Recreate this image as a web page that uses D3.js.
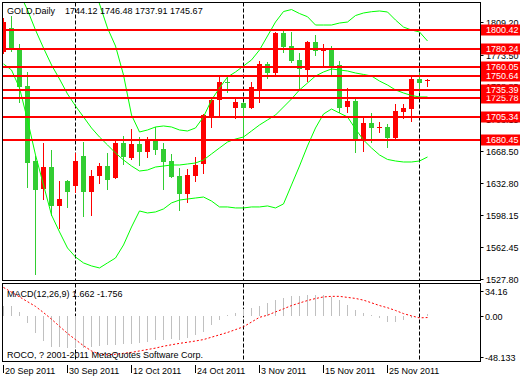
<!DOCTYPE html>
<html>
<head>
<meta charset="utf-8">
<script src="https://d3js.org/d3.v7.min.js"></script>
<style>
  body { margin: 0; background: #fff; }
  text { font-family: "Liberation Sans", Arial, sans-serif; font-size: 9px; }
</style>
</head>
<body>
<script>
// daily bars, 20 Sep 2011 .. 2 Dec 2011
var dates = ['2011.09.20', '2011.09.21', '2011.09.22', '2011.09.23', '2011.09.26', '2011.09.27', '2011.09.28', '2011.09.29', '2011.09.30',
  '2011.10.03', '2011.10.04', '2011.10.05', '2011.10.06', '2011.10.07', '2011.10.10', '2011.10.11', '2011.10.12', '2011.10.13', '2011.10.14',
  '2011.10.17', '2011.10.18', '2011.10.19', '2011.10.20', '2011.10.21', '2011.10.24', '2011.10.25', '2011.10.26', '2011.10.27', '2011.10.28', '2011.10.31',
  '2011.11.01', '2011.11.02', '2011.11.03', '2011.11.04', '2011.11.07', '2011.11.08', '2011.11.09', '2011.11.10', '2011.11.11', '2011.11.14',
  '2011.11.15', '2011.11.16', '2011.11.17', '2011.11.18', '2011.11.21', '2011.11.22', '2011.11.23', '2011.11.24', '2011.11.25', '2011.11.28',
  '2011.11.29', '2011.11.30', '2011.12.01', '2011.12.02'];

var open = [1776.5, 1802.8, 1780.9, 1739.2, 1657.0, 1626.3, 1650.4, 1607.7, 1635.1, 1629.6, 1662.5, 1623.0, 1640.6, 1651.5, 1638.4, 1676.7, 1660.3, 1675.6,
  1666.9, 1678.9, 1670.2, 1657.0, 1640.6, 1620.8, 1640.6, 1653.7, 1704.2, 1723.9, 1743.6, 1715.1, 1720.6, 1715.1, 1736.0, 1763.4, 1753.5, 1797.4,
  1783.1, 1767.8, 1756.8, 1787.5, 1777.6, 1780.9, 1762.3, 1716.2, 1722.8, 1681.1, 1698.7, 1693.2, 1694.3, 1682.2, 1710.7, 1714.0, 1746.9, 1744.12];
var high = [1813.8, 1816.0, 1785.3, 1754.6, 1662.5, 1676.7, 1669.1, 1635.1, 1636.2, 1665.8, 1677.8, 1647.1, 1654.8, 1665.8, 1678.9, 1684.4, 1692.1, 1683.3,
  1683.3, 1694.3, 1676.7, 1664.7, 1649.3, 1648.2, 1661.4, 1708.5, 1727.2, 1749.1, 1749.1, 1727.2, 1721.7, 1743.6, 1766.7, 1765.6, 1798.5, 1801.7,
  1798.5, 1775.4, 1788.6, 1795.2, 1785.3, 1783.1, 1766.7, 1737.1, 1726.1, 1704.2, 1709.6, 1699.8, 1697.6, 1719.5, 1719.5, 1749.1, 1753.5, 1746.48];
var low = [1774.3, 1776.5, 1720.6, 1627.4, 1532.0, 1614.2, 1596.7, 1582.4, 1605.5, 1621.9, 1595.6, 1596.7, 1631.8, 1625.2, 1637.3, 1652.6, 1658.1, 1651.5,
  1660.3, 1663.6, 1625.2, 1638.4, 1602.2, 1611.0, 1634.0, 1642.8, 1693.2, 1706.4, 1731.6, 1703.1, 1682.2, 1714.0, 1720.6, 1746.9, 1751.3, 1775.4,
  1764.5, 1734.9, 1743.6, 1772.1, 1760.1, 1751.3, 1709.6, 1709.6, 1665.8, 1666.9, 1676.7, 1687.7, 1671.3, 1681.1, 1703.1, 1699.8, 1731.6, 1737.91];
var close = [1809.4, 1779.8, 1738.1, 1654.8, 1625.2, 1650.4, 1607.7, 1615.3, 1623.0, 1657.0, 1623.0, 1640.6, 1651.5, 1636.2, 1676.7, 1661.4, 1675.6, 1666.9,
  1681.1, 1669.1, 1655.9, 1639.5, 1620.8, 1641.7, 1652.6, 1707.4, 1723.9, 1743.6, 1742.5, 1721.7, 1715.1, 1738.1, 1763.4, 1753.5, 1797.4, 1782.0,
  1766.7, 1757.9, 1787.5, 1777.6, 1779.8, 1761.2, 1715.1, 1722.8, 1681.1, 1698.7, 1693.2, 1694.3, 1682.2, 1711.8, 1715.1, 1746.9, 1742.5, 1745.67];

// bollinger bands
var bandUpper = [1901.5, 1905.9, 1910.3, 1914.7, 1919.1, 1921.3, 1921.3, 1919.1, 1912.5, 1901.5, 1882.9, 1855.5, 1829.2, 1802.8, 1783.1, 1751.3, 1707.4,
  1688.8, 1691.0, 1694.3, 1695.4, 1694.3, 1691.0, 1689.9, 1693.2, 1705.3, 1723.9, 1737.1, 1749.1, 1754.6, 1761.2, 1767.8, 1778.7, 1794.1, 1809.4,
  1820.9, 1823.1, 1818.7, 1815.2, 1806.1, 1806.1, 1806.1, 1808.3, 1809.4, 1816.5, 1819.3, 1820.7, 1821.5, 1820.4, 1811.6, 1803.9, 1800.6, 1798.5, 1788.6];
var bandMiddle = [1875.2, 1857.7, 1841.2, 1822.6, 1800.6, 1780.9, 1762.3, 1746.9, 1730.5, 1717.3, 1705.3, 1693.2, 1683.3, 1674.6, 1665.8, 1658.1, 1651.5,
  1646.0, 1647.1, 1650.4, 1651.5, 1652.6, 1652.6, 1653.7, 1654.8, 1658.1, 1664.7, 1671.3, 1677.8, 1681.1, 1683.3, 1689.9, 1696.5, 1702.0, 1707.4,
  1716.2, 1725.0, 1734.9, 1742.5, 1750.2, 1754.6, 1757.9, 1756.8, 1755.7, 1753.5, 1751.9, 1750.2, 1744.7, 1740.3, 1734.9, 1731.6, 1728.8, 1727.2, 1727.2];
var bandLower = [1763.4, 1756.8, 1737.1, 1702.0, 1663.6, 1630.7, 1597.8, 1579.2, 1561.6, 1551.7, 1545.2, 1541.9, 1539.7, 1545.2, 1550.6, 1564.9, 1584.6,
  1602.2, 1600.0, 1601.1, 1604.4, 1611.0, 1614.2, 1615.3, 1616.4, 1617.5, 1613.1, 1606.6, 1606.6, 1605.5, 1605.5, 1606.6, 1606.6, 1607.7, 1605.5,
  1609.9, 1630.7, 1651.5, 1673.5, 1693.2, 1708.5, 1714.0, 1709.6, 1705.3, 1692.1, 1680.0, 1671.3, 1663.6, 1658.7, 1657.0, 1655.9, 1655.9, 1657.0, 1661.4];

// MACD(12,26,9): main (histogram) and signal
var macdMain = [10.0, 10.0, 3.8, -7.6, -18.5, -26.6, -32.8, -32.8, -34.2, -34.2, -34.2, -32.8, -32.3, -31.0, -31.0, -30.0, -29.2, -28.5, -27.6, -25.7,
  -25.7, -24.7, -25.7, -23.8, -20.0, -16.7, -9.5, -4.3, 0.5, 2.9, 7.1, 8.2, 10.5, 13.5, 17.1, 18.9, 20.6, 20.6, 22.4, 22.4, 22.4, 20.0, 16.4, 11.8,
  5.7, 2.9, 1.0, -2.5, -6.1, -6.1, -4.3, -1.8, -0.5, 1.662];
var macdSignal = [30, 25, 20, 15, 10, 3.5, -3.5, -11, -18.5, -25, -31.5, -37, -40.5, -41, -40.5, -39.5, -38.5, -37, -35.5, -34, -32, -30.5, -29,
  -27.8, -26.5, -25, -22.5, -20, -17.5, -14.5, -11.5, -6.5, -1.5, 0.7, 4.2, 7.4, 10.9, 13.6, 16.2, 18.3, 20.0, 20.6, 20.6, 19.5, 18.4, 16.6, 13.8,
  10.9, 8.6, 5.7, 2.4, 0.0, -2.1, -1.756];

// horizontal price levels drawn on the chart
var levels = [1800.42, 1780.24, 1760.05, 1750.64, 1735.39, 1725.78, 1705.34, 1680.45];
var priceTicks = ['1809.20', '1773.50', '1738.85', '1703.15', '1668.50', '1632.80', '1598.15', '1562.45', '1527.80'];
var macdTicks = ['34.16', '0.00', '-48.133'];

var width = 520, height = 380;
var left = 2.5, right = 480.5;
var mainTop = 2.5, mainBottom = 280.5, macdTop = 283.5, macdBottom = 361.5;

var parse = d3.timeParse('%Y.%m.%d');
var fmt = d3.timeFormat('%-d %b %Y');
var days = dates.map(parse);

var svg = d3.select('body').append('svg').attr('width', width).attr('height', height);
svg.append('rect').attr('width', width).attr('height', height).attr('fill', '#fff');

var x = d3.scaleBand().domain(d3.range(dates.length)).range([-0.5, 431.5]);
function cx(i) { return x(i) + x.bandwidth() / 2; }
var y = d3.scaleLinear().domain([1527.80, 1809.20]).range([278.8, 22.2]);
var ym = d3.scaleLinear().domain([-48.133, 34.16]).range([macdBottom, macdTop]);

var defs = svg.append('defs');
defs.append('clipPath').attr('id', 'clipMain').append('rect')
  .attr('x', left).attr('y', mainTop).attr('width', right - left).attr('height', mainBottom - mainTop);
defs.append('clipPath').attr('id', 'clipMacd').append('rect')
  .attr('x', left).attr('y', macdTop).attr('width', right - left).attr('height', macdBottom - macdTop);

var idx = d3.range(dates.length);
// month separators
var seps = idx.filter(function(i) { return i > 0 && days[i].getMonth() != days[i - 1].getMonth(); });

// ---- main panel ----
var g = svg.append('g').attr('clip-path', 'url(#clipMain)');

g.selectAll('line.sep').data(seps).enter().append('line')
  .attr('x1', cx).attr('x2', cx).attr('y1', mainTop).attr('y2', mainBottom)
  .attr('stroke', '#000').attr('stroke-dasharray', '4,2');

function col(i) { return close[i] >= open[i] ? '#ff0000' : '#32cd32'; }

g.selectAll('line.wick').data(idx).enter().append('line')
  .attr('x1', cx).attr('x2', cx)
  .attr('y1', function(i) { return Math.round(y(high[i])); })
  .attr('y2', function(i) { return Math.round(y(low[i])); })
  .attr('stroke', col);

g.selectAll('rect.body').data(idx).enter().append('rect')
  .attr('x', function(i) { return x(i) + 1.5; })
  .attr('width', 5)
  .attr('y', function(i) { return Math.round(Math.min(y(open[i]), y(close[i]))); })
  .attr('height', function(i) { return Math.max(1, Math.round(Math.abs(y(open[i]) - y(close[i])))); })
  .attr('fill', col);

[bandUpper, bandMiddle, bandLower].forEach(function(band) {
  g.append('path')
    .attr('d', d3.line().x(function(d, i) { return cx(i); }).y(function(d) { return y(d); })(band))
    .attr('fill', 'none').attr('stroke', '#00ff00').attr('stroke-width', 1);
});

g.selectAll('line.level').data(levels).enter().append('line')
  .attr('x1', left).attr('x2', right)
  .attr('y1', function(d) { return Math.round(y(d)); })
  .attr('y2', function(d) { return Math.round(y(d)); })
  .attr('stroke', '#ff0000').attr('stroke-width', 2);

// ---- MACD panel ----
var m = svg.append('g').attr('clip-path', 'url(#clipMacd)');

m.selectAll('line.sep').data(seps).enter().append('line')
  .attr('x1', cx).attr('x2', cx).attr('y1', macdTop).attr('y2', macdBottom)
  .attr('stroke', '#000').attr('stroke-dasharray', '4,2');

m.selectAll('line.bar').data(idx).enter().append('line')
  .attr('x1', cx).attr('x2', cx)
  .attr('y1', Math.round(ym(0)))
  .attr('y2', function(i) { return Math.round(ym(macdMain[i])); })
  .attr('stroke', '#c0c0c0');

m.append('path')
  .attr('d', d3.line().x(function(d, i) { return cx(i); }).y(function(d) { return ym(d); })(macdSignal))
  .attr('fill', 'none').attr('stroke', '#ff0000').attr('stroke-dasharray', '2,2');

// borders
svg.append('rect').attr('x', left).attr('y', mainTop).attr('width', right - left).attr('height', mainBottom - mainTop)
  .attr('fill', 'none').attr('stroke', '#000');
svg.append('rect').attr('x', left).attr('y', macdTop).attr('width', right - left).attr('height', macdBottom - macdTop)
  .attr('fill', 'none').attr('stroke', '#000');

// price axis
var pa = svg.append('g');
priceTicks.forEach(function(t) {
  var yy = Math.round(y(+t)) + 0.5;
  pa.append('line').attr('x1', right).attr('x2', right + 3).attr('y1', yy).attr('y2', yy).attr('stroke', '#000');
  pa.append('text').attr('x', 486).attr('y', yy).attr('dy', '0.35em').attr('fill', '#000').text(t);
});

// level labels
levels.slice().sort(d3.ascending).forEach(function(v) {
  var yy = Math.round(y(v));
  pa.append('rect').attr('x', 481).attr('y', yy - 5.5).attr('width', 39).attr('height', 11).attr('fill', '#ff0000');
  pa.append('text').attr('x', 486).attr('y', yy).attr('dy', '0.35em').attr('fill', '#fff').text(v.toFixed(2));
});

// macd axis
macdTicks.forEach(function(t) {
  var yy = Math.min(Math.max(ym(+t), macdTop + 7), macdBottom - 5);
  yy = Math.round(yy) + 0.5;
  pa.append('line').attr('x1', right).attr('x2', right + 3).attr('y1', yy).attr('y2', yy).attr('stroke', '#000');
  pa.append('text').attr('x', 485).attr('y', yy).attr('dy', '0.35em').attr('fill', '#000').text(t);
});

// date axis
var da = svg.append('g');
idx.filter(function(i) { return i % 8 == 0; }).forEach(function(i) {
  da.append('line').attr('x1', cx(i)).attr('x2', cx(i)).attr('y1', 365).attr('y2', 373).attr('stroke', '#000');
  da.append('text').attr('x', cx(i) + 1.5).attr('y', 374).attr('fill', '#000').text(fmt(days[i]));
});

// captions
var last = dates.length - 1;
svg.append('text').attr('x', 7).attr('y', 14).text('GOLD,Daily');
svg.append('text').attr('x', 65).attr('y', 14)
  .text([open[last], high[last], low[last], close[last]].map(function(v) { return v.toFixed(2); }).join(' '));
svg.append('text').attr('x', 7).attr('y', 297)
  .text('MACD(12,26,9) ' + macdMain[last].toFixed(3) + ' ' + macdSignal[last].toFixed(3));
svg.append('text').attr('x', 7).attr('y', 358).text('ROCO, ? 2001-2011 MetaQuotes Software Corp.');
</script>
</body>
</html>
